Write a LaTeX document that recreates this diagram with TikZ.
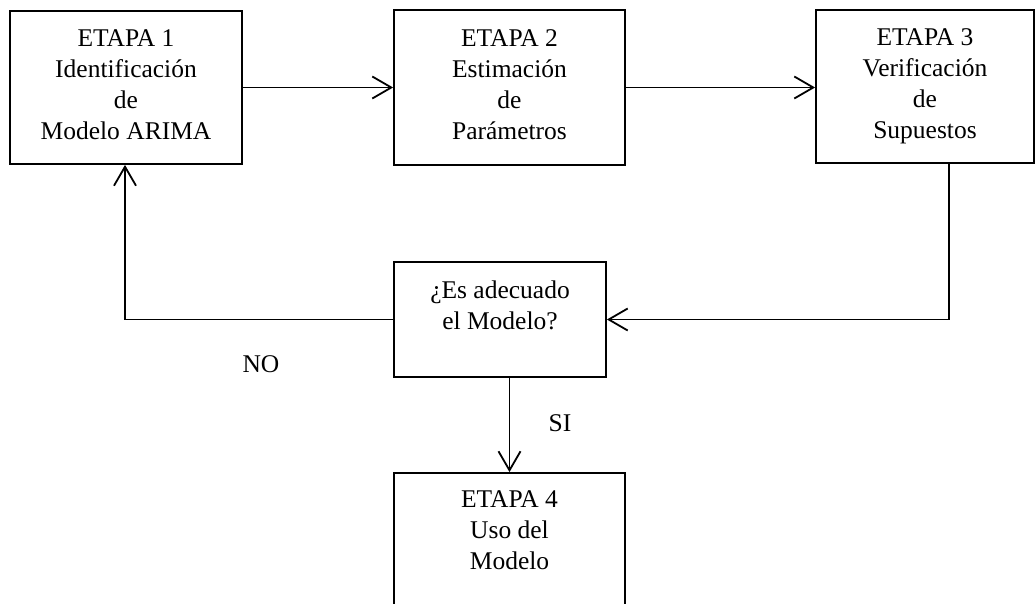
\documentclass[tikz,border=0pt]{standalone}
\usepackage{fontspec}
\setmainfont{Liberation Serif}
\usetikzlibrary{arrows.meta,calc}
\newcommand{\mytop}{\rule{0pt}{18pt}}
\newcommand{\mybot}[1]{\rule[-#1]{0pt}{#1}}
\begin{document}
\begin{tikzpicture}[x=1pt,y=-1pt,
  box/.style={draw, line width=1.8pt, rectangle, inner sep=0pt, align=center,
    font=\fontsize{25.5}{31}\selectfont},
  lbl/.style={font=\fontsize{25.5}{31}\selectfont, inner sep=0pt},
  arr/.style={line width=1.8pt, -{Straight Barb[length=19pt,width=22pt,line width=1.8pt]}}]
\useasboundingbox (0,0) rectangle (1036,604);
\clip (0,0) rectangle (1036,604);
\node[box, minimum width=232pt, minimum height=153pt] (b1) at (126,87.5)
  {\mytop ETAPA 1\\Identificación\\de\\Modelo ARIMA\mybot{7pt}};
\node[box, minimum width=231pt, minimum height=155pt] (b2) at (509.5,87.5)
  {\mytop ETAPA 2\\Estimación\\de\\Parámetros\mybot{7pt}};
\node[box, minimum width=218pt, minimum height=153pt] (b3) at (925,86.5)
  {\mytop ETAPA 3\\Verificación\\de\\Supuestos\mybot{7pt}};
\node[box, minimum width=212pt, minimum height=115pt] (dec) at (500,319.5)
  {\mytop ¿Es adecuado\\el Modelo?\mybot{30pt}};
\node[box, minimum width=231pt, minimum height=167pt] (b4) at (509.5,556.5)
  {\mytop ETAPA 4\\Uso del\\Modelo\mybot{55pt}};
\node[lbl] (no) at (261,364) {NO};
\node[lbl] (si) at (560,423) {SI};
\draw[arr] (b1.east) -- (b1.east -| b2.west);
\draw[arr] (b2.east) -- (b2.east -| b3.west);
\draw[arr] ([xshift=24pt]b3.south) |- (dec.east);
\draw[arr] (dec.west) -| ([xshift=-1pt]b1.south);
\draw[arr] (dec.south -| b4.north) -- (b4.north);
\end{tikzpicture}
\end{document}
